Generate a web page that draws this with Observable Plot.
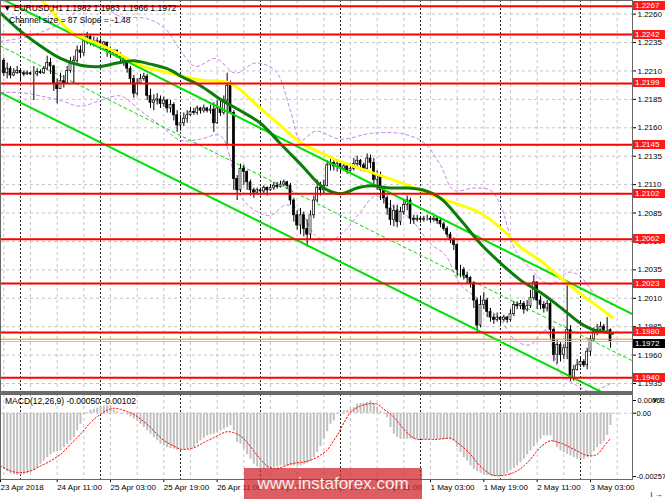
<!DOCTYPE html>
<html><head><meta charset="utf-8">
<script src="https://cdn.jsdelivr.net/npm/d3@7"></script>
<script src="https://cdn.jsdelivr.net/npm/@observablehq/plot@0.6"></script>
<style>
body{margin:0;background:#fff;}
#wrap{position:relative;width:665px;height:499px;overflow:hidden;font-family:"Liberation Sans",Arial,sans-serif;color:#000;}
#wrap svg{position:absolute;left:0;}
.t{position:absolute;font-size:8.5px;white-space:nowrap;line-height:9px;}
.box{position:absolute;left:633px;width:32px;height:9px;font-size:8px;line-height:9px;color:#fff;padding-left:2px;box-sizing:border-box;}
</style></head><body><div id="wrap"></div>
<script>
// ---------- data ----------
const firstIndex = -5;          // bar index of first candle (0 = 24 Apr 00:00)
const firstOpen = 1.2219;
const closes = [
1.2208,1.2212,1.2206,1.2208,1.2210,1.2208,1.2207,1.2208,1.2207,1.2207,
1.2209,1.2208,1.2212,1.2217,1.2214,1.2199,1.2194,1.2201,1.2199,1.2210,
1.2217,1.2219,1.2228,1.2226,1.2236,1.2240,1.2236,1.2235,1.2236,1.2233,
1.2235,1.2228,1.2226,1.2228,1.2224,1.2221,1.2217,1.2212,1.2203,1.2190,
1.2199,1.2203,1.2205,1.2188,1.2182,1.2184,1.2185,1.2181,1.2184,1.2177,
1.2180,1.2171,1.2162,1.2164,1.2168,1.2171,1.2174,1.2173,1.2177,1.2175,
1.2177,1.2175,1.2176,1.2164,1.2177,1.2173,1.2184,1.2197,1.2173,1.2115,
1.2105,1.2124,1.2121,1.2112,1.2105,1.2103,1.2105,1.2104,1.2107,1.2105,
1.2107,1.2109,1.2108,1.2110,1.2112,1.2109,1.2096,1.2083,1.2074,1.2083,
1.2071,1.2066,1.2083,1.2096,1.2107,1.2105,1.2109,1.2127,1.2129,1.2126,
1.2128,1.2124,1.2126,1.2122,1.2124,1.2128,1.2131,1.2127,1.2124,1.2133,
1.2129,1.2114,1.2118,1.2105,1.2098,1.2089,1.2079,1.2087,1.2077,1.2086,
1.2092,1.2096,1.2080,1.2079,1.2080,1.2079,1.2080,1.2080,1.2079,1.2080,
1.2078,1.2075,1.2071,1.2066,1.2061,1.2057,1.2035,1.2035,1.2030,1.2028,
1.2023,1.2008,1.1986,1.2004,1.2008,1.1998,1.1993,1.1991,1.1993,1.1991,
1.1993,1.1991,1.1996,1.2004,1.2003,1.2005,1.2000,1.2003,1.2010,1.2024,
1.2008,1.2004,1.2001,1.2005,1.1982,1.1960,1.1969,1.1960,1.1966,1.1982,
1.1940,1.1947,1.1951,1.1954,1.1951,1.1963,1.1974,1.1980,1.1982,1.1985,
1.1982,1.1982,1.1972];
const highs = [
1.2221,1.2217,1.2214,1.2212,1.2214,1.2212,1.2210,1.2210,1.2209,1.2214,
1.2212,1.2211,1.2214,1.2223,1.2221,1.2215,1.2203,1.2208,1.2206,1.2214,
1.2222,1.2223,1.2232,1.2232,1.2240,1.2244,1.2242,1.2240,1.2239,1.2238,
1.2236,1.2233,1.2231,1.2229,1.2228,1.2226,1.2223,1.2219,1.2214,1.2206,
1.2203,1.2207,1.2208,1.2207,1.2194,1.2189,1.2190,1.2188,1.2187,1.2185,
1.2184,1.2182,1.2175,1.2171,1.2173,1.2175,1.2178,1.2177,1.2179,1.2178,
1.2180,1.2178,1.2180,1.2182,1.2184,1.2184,1.2188,1.2208,1.2201,1.2175,
1.2118,1.2128,1.2127,1.2122,1.2114,1.2107,1.2107,1.2107,1.2109,1.2108,
1.2110,1.2112,1.2112,1.2113,1.2114,1.2113,1.2111,1.2098,1.2087,1.2089,
1.2086,1.2079,1.2087,1.2100,1.2114,1.2112,1.2114,1.2131,1.2133,1.2131,
1.2131,1.2129,1.2129,1.2128,1.2128,1.2133,1.2135,1.2132,1.2129,1.2137,
1.2136,1.2133,1.2122,1.2121,1.2108,1.2100,1.2096,1.2092,1.2092,1.2090,
1.2096,1.2100,1.2098,1.2083,1.2083,1.2082,1.2082,1.2083,1.2082,1.2082,
1.2081,1.2080,1.2077,1.2073,1.2068,1.2063,1.2058,1.2039,1.2037,1.2033,
1.2029,1.2024,1.2010,1.2012,1.2015,1.2010,1.2001,1.1996,1.1997,1.1994,
1.1995,1.1994,1.2000,1.2007,1.2007,1.2008,1.2007,1.2008,1.2017,1.2030,
1.2022,1.2012,1.2007,1.2008,1.2010,1.1984,1.1973,1.1971,1.1969,1.2024,
1.1986,1.1951,1.1956,1.1958,1.1956,1.1966,1.1977,1.1984,1.1987,1.1989,
1.1987,1.1993,1.1983];
const lows = [
1.2205,1.2203,1.2203,1.2205,1.2207,1.2201,1.2205,1.2206,1.2206,1.2184,
1.2205,1.2207,1.2207,1.2210,1.2207,1.2192,1.2181,1.2196,1.2195,1.2198,
1.2208,1.2199,1.2217,1.2221,1.2223,1.2233,1.2232,1.2231,1.2233,1.2229,
1.2229,1.2222,1.2221,1.2223,1.2221,1.2217,1.2214,1.2208,1.2199,1.2186,
1.2188,1.2198,1.2201,1.2184,1.2177,1.2175,1.2180,1.2177,1.2178,1.2173,
1.2173,1.2166,1.2156,1.2157,1.2161,1.2164,1.2170,1.2171,1.2171,1.2172,
1.2173,1.2173,1.2172,1.2156,1.2163,1.2170,1.2171,1.2144,1.2172,1.2105,
1.2096,1.2103,1.2109,1.2105,1.2100,1.2098,1.2101,1.2100,1.2102,1.2100,
1.2104,1.2105,1.2106,1.2107,1.2108,1.2106,1.2092,1.2077,1.2070,1.2066,
1.2064,1.2055,1.2061,1.2080,1.2094,1.2100,1.2102,1.2108,1.2122,1.2122,
1.2121,1.2120,1.2122,1.2119,1.2121,1.2122,1.2126,1.2122,1.2121,1.2123,
1.2124,1.2108,1.2105,1.2096,1.2093,1.2083,1.2074,1.2073,1.2072,1.2074,
1.2083,1.2087,1.2075,1.2075,1.2077,1.2076,1.2077,1.2078,1.2076,1.2077,
1.2075,1.2072,1.2069,1.2063,1.2058,1.2052,1.2029,1.2028,1.2026,1.2023,
1.2019,1.2001,1.1980,1.1984,1.2000,1.1993,1.1989,1.1987,1.1989,1.1987,
1.1989,1.1988,1.1989,1.1994,1.2000,1.2000,1.1996,1.1998,1.2001,1.2008,
1.2000,1.2000,1.1997,1.1998,1.1974,1.1954,1.1952,1.1954,1.1956,1.1956,
1.1937,1.1937,1.1946,1.1949,1.1949,1.1947,1.1959,1.1971,1.1977,1.1979,
1.1979,1.1980,1.1966];
const macdHist = [
-0.00228,-0.00237,-0.00246,-0.00250,-0.00252,-0.00252,-0.00250,-0.00246,-0.00241,-0.00234,
-0.00221,-0.00207,-0.00194,-0.00180,-0.00169,-0.00160,-0.00156,-0.00153,-0.00140,-0.00126,
-0.00112,-0.00099,-0.00072,-0.00045,-0.00004,0.00003,0.00012,0.00016,0.00020,0.00026,
0.00028,0.00030,0.00030,0.00012,0.00005,-0.00001,-0.00003,-0.00007,-0.00015,-0.00024,
-0.00034,-0.00045,-0.00058,-0.00072,-0.00085,-0.00099,-0.00112,-0.00126,-0.00133,-0.00140,
-0.00144,-0.00146,-0.00150,-0.00153,-0.00150,-0.00146,-0.00142,-0.00140,-0.00126,-0.00112,
-0.00102,-0.00092,-0.00088,-0.00085,-0.00079,-0.00072,-0.00065,-0.00058,-0.00051,-0.00072,
-0.00119,-0.00126,-0.00146,-0.00167,-0.00187,-0.00207,-0.00218,-0.00228,-0.00228,-0.00228,
-0.00224,-0.00221,-0.00218,-0.00214,-0.00214,-0.00214,-0.00214,-0.00214,-0.00214,-0.00214,
-0.00210,-0.00205,-0.00195,-0.00180,-0.00160,-0.00135,-0.00105,-0.00075,-0.00045,-0.00031,
-0.00004,0.00003,0.00009,0.00012,0.00016,0.00023,0.00037,0.00039,0.00039,0.00043,
0.00050,0.00037,0.00023,0.00007,-0.00004,-0.00018,-0.00058,-0.00085,-0.00099,-0.00106,
-0.00106,-0.00106,-0.00106,-0.00106,-0.00106,-0.00106,-0.00106,-0.00106,-0.00106,-0.00106,
-0.00106,-0.00106,-0.00106,-0.00106,-0.00108,-0.00112,-0.00140,-0.00160,-0.00180,-0.00194,
-0.00214,-0.00228,-0.00238,-0.00244,-0.00250,-0.00252,-0.00255,-0.00257,-0.00257,-0.00255,
-0.00252,-0.00245,-0.00234,-0.00224,-0.00214,-0.00201,-0.00187,-0.00169,-0.00153,-0.00137,
-0.00119,-0.00106,-0.00092,-0.00092,-0.00092,-0.00119,-0.00140,-0.00153,-0.00160,-0.00167,
-0.00173,-0.00180,-0.00187,-0.00187,-0.00187,-0.00180,-0.00173,-0.00156,-0.00140,-0.00128,
-0.00115,-0.00090,-0.00050];
const macdSignal = [[-6,-0.00214],[-3,-0.00234],[0,-0.00241],[3,-0.00234],[6,-0.00214],[9,-0.00194],[12,-0.00167],[15,-0.00126],[18,-0.00085],[21,-0.00038],[24,-0.00004],[26,0.00012],[28,0.00020],[30,0.00016],[32,0.00007],[34,-0.00004],[36,-0.00024],[38,-0.00045],[40,-0.00072],[42,-0.00099],[44,-0.00119],[46,-0.00133],[48,-0.00146],[50,-0.00146],[52,-0.00140],[54,-0.00126],[56,-0.00112],[58,-0.00099],[60,-0.00085],[62,-0.00075],[64,-0.00079],[66,-0.00092],[68,-0.00119],[70,-0.00153],[72,-0.00187],[74,-0.00214],[76,-0.00224],[78,-0.00221],[80,-0.00210],[82,-0.00203],[84,-0.00200],[86,-0.00195],[88,-0.00185],[90,-0.00170],[92,-0.00150],[93,-0.00130],[95,-0.00090],[97,-0.00040],[99,0.00003],[101,0.00023],[103,0.00034],[105,0.00039],[107,0.00037],[109,0.00016],[111,-0.00004],[113,-0.00031],[115,-0.00065],[117,-0.00092],[119,-0.00106],[121,-0.00106],[123,-0.00106],[125,-0.00106],[127,-0.00103],[129,-0.00102],[131,-0.00119],[133,-0.00140],[135,-0.00167],[137,-0.00201],[139,-0.00228],[141,-0.00248],[143,-0.00254],[145,-0.00252],[147,-0.00246],[149,-0.00234],[151,-0.00214],[153,-0.00187],[155,-0.00153],[157,-0.00126],[159,-0.00112],[161,-0.00117],[163,-0.00126],[165,-0.00140],[167,-0.00153],[169,-0.00167],[171,-0.00173],[173,-0.00167],[175,-0.00135],[177,-0.00102]];
const maSlow = [[5,1.2276],[9,1.2264],[13,1.2250],[16,1.2243],[19,1.2239],[27,1.2229],[36,1.2215],[45,1.2208],[54,1.2202],[63,1.2199],[72,1.2177],[78,1.2162],[84,1.2147],[93,1.2134],[102,1.2124],[111,1.2115],[120,1.2105],[126,1.2098],[132,1.2092],[138,1.2085],[144,1.2072],[150,1.2055],[156,1.2043],[162,1.2028],[168,1.2014],[174,1.2001],[177.6,1.1993]];
const maFast = [[-6,1.2261],[0,1.2245],[6,1.2232],[12,1.2221],[18,1.2215],[24,1.2214],[29,1.2217],[34,1.2219],[39,1.2216],[44,1.2212],[49,1.2204],[54,1.2197],[60,1.2185],[66,1.2175],[72,1.2164],[78,1.2146],[84,1.2128],[91,1.2107],[96,1.2102],[101,1.2107],[105,1.2109],[111,1.2107],[116,1.2107],[121,1.2105],[126,1.2098],[132,1.2079],[138,1.2058],[144,1.2041],[150,1.2026],[156,1.2015],[162,1.2002],[168,1.1988],[172,1.1982],[176,1.1980],[177.6,1.1979]];
const bandUpper = [[-6,1.2236],[3,1.2241],[12,1.2252],[18,1.2264],[24,1.2267],[30,1.2258],[38,1.2256],[43.5,1.2247],[48,1.2228],[52.5,1.2214],[58.5,1.2221],[64.5,1.2208],[70.5,1.2217],[76.5,1.2210],[81,1.2175],[84,1.2149],[88.5,1.2157],[96,1.2150],[105,1.2155],[114,1.2155],[121,1.2147],[126,1.2127],[130,1.2105],[136,1.2107],[141,1.2105],[144,1.2092],[148.5,1.2052],[153,1.2036],[159,1.2022],[164.5,1.2033],[168,1.2029],[172.5,1.2013],[177.6,1.2004]];
const bandLower = [[-6,1.2191],[0,1.2191],[6,1.2188],[12,1.2184],[18,1.2179],[24,1.2184],[30,1.2188],[36,1.2175],[42,1.2162],[48,1.2149],[54,1.2150],[60,1.2153],[66,1.2100],[70.5,1.2087],[75,1.2083],[79.5,1.2092],[84,1.2087],[88.5,1.2065],[93,1.2061],[97.5,1.2070],[102,1.2086],[106.5,1.2100],[111,1.2092],[117,1.2080],[123,1.2058],[127.5,1.2048],[132,1.2022],[138,1.2008],[144,1.1991],[148.5,1.1973],[153,1.1969],[157.5,1.1982],[162,1.1944],[166.5,1.1934],[171,1.1928],[175,1.1932],[177.6,1.1936]];
const channelUpper = [[-6,1.2274],[183.6,1.1996]];
const channelMiddle = [[-6,1.2232],[183.6,1.1955]];
const channelLower = [[-6,1.2191],[183.6,1.1914]];
const levels = [1.2267,1.2242,1.2199,1.2145,1.2102,1.2062,1.2023,1.1980,1.1940];
const orangeLevel = 1.1974;
const bidPrice = 1.1972;
const priceTicks = [1.2260,1.2235,1.2210,1.2185,1.2160,1.2135,1.2110,1.2085,1.2060,1.2035,1.2010,1.1985,1.1960,1.1935];
const macdTicks = [0.00068, 0, -0.00257];
const macdTickLabels = ["0.00068","0.00","-0.00257"];
const xLabelIdx = [-6,11,27,43,59,75,91,107,123,139,155,171];
const xLabels = ["23 Apr 2018","24 Apr 11:00","25 Apr 03:00","25 Apr 19:00","26 Apr 11:00","27 Apr 03:00","27 Apr 19:00","30 Apr 11:00","1 May 03:00","1 May 19:00","2 May 11:00","3 May 03:00"];
const gridIdx = [-5,3,11,19,27,35,43,51,59,67,75,83,91,99,107,115,123,131,139,147,155,163,171,179];
const daySep = [0,24,48,72,96,120,144,168];
const headerText = "EURUSD,H1  1.1982 1.1983 1.1966 1.1972";
const channelText = "Channel size = 87 Slope = -1.48";
const macdText = "MACD(12,26,9) -0.00050 -0.00102";

// ---------- build ----------
const bars = closes.map((c, k) => {
  const o = k === 0 ? firstOpen : closes[k - 1];
  return {i: firstIndex + k, open: o, close: c, high: Math.max(highs[k], o, c), low: Math.min(lows[k], o, c)};
});
const hist = macdHist.map((v, k) => ({i: firstIndex + k, v}));
const X_DOMAIN = [-6, 183.6];
const FONT = "Liberation Sans, Arial, sans-serif";
const px = d => d[0], py = d => d[1];
const macdLabel = d => macdTickLabels[macdTicks.indexOf(d)];

const main = Plot.plot({
  width: 665, height: 392, marginLeft: 0, marginRight: 33, marginTop: 0, marginBottom: 0,
  x: {domain: X_DOMAIN, axis: null},
  y: {domain: [1.19271, 1.22720], axis: null},
  style: {fontFamily: FONT, fontSize: "8px", background: "transparent", overflow: "visible", color: "#000"},
  marks: [
    Plot.ruleY(priceTicks, {stroke: "#c4c4c4", strokeDasharray: "3,3"}),
    Plot.ruleX(gridIdx, {stroke: "#c4c4c4", strokeDasharray: "3,3"}),
    Plot.ruleX(daySep, {stroke: "#222", strokeDasharray: "2,2"}),
    Plot.line(bandUpper, {x: px, y: py, stroke: "#c47fe6", strokeDasharray: "3,3", strokeWidth: 1, curve: "catmull-rom", clip: true}),
    Plot.line(bandLower, {x: px, y: py, stroke: "#c47fe6", strokeDasharray: "3,3", strokeWidth: 1, curve: "catmull-rom", clip: true}),
    Plot.line(channelMiddle, {x: px, y: py, stroke: "#00e000", strokeDasharray: "3,3", strokeWidth: 1, clip: true}),
    Plot.ruleX(bars, {x: "i", y1: "low", y2: "high", stroke: "#000", strokeWidth: 1}),
    Plot.rect(bars, {x1: d => d.i - 0.3, x2: d => d.i + 0.3, y1: "open", y2: "close",
      fill: d => d.close > d.open ? "#fff" : "#000", stroke: "#000", strokeWidth: 0.7}),
    Plot.line(channelUpper, {x: px, y: py, stroke: "#00e000", strokeWidth: 2, clip: true}),
    Plot.line(channelLower, {x: px, y: py, stroke: "#00e000", strokeWidth: 2, clip: true}),
    Plot.line(maSlow, {x: px, y: py, stroke: "#ffff00", strokeWidth: 3, curve: "catmull-rom", clip: true}),
    Plot.line(maFast, {x: px, y: py, stroke: "#0a7d0a", strokeWidth: 3, curve: "catmull-rom", clip: true}),
    Plot.ruleY(levels, {stroke: "#ff0000", strokeWidth: 2}),
    Plot.ruleY([orangeLevel], {stroke: "#ff8c00", strokeWidth: 1}),
    Plot.ruleY([bidPrice], {stroke: "#c0c0c0", strokeWidth: 1}),
    Plot.axisY({anchor: "right", ticks: priceTicks, tickFormat: d3.format(".4f"), tickSize: 3, tickPadding: 2, fontSize: 8}),
    Plot.frame({stroke: "#666"})
  ]
});

const macd = Plot.plot({
  width: 665, height: 106, marginLeft: 0, marginRight: 33, marginTop: 1, marginBottom: 20,
  x: {domain: X_DOMAIN, axis: null},
  y: {domain: [-0.00269, 0.00076], axis: null},
  style: {fontFamily: FONT, fontSize: "8px", background: "transparent", overflow: "visible", color: "#000"},
  marks: [
    Plot.ruleX(gridIdx, {stroke: "#c4c4c4", strokeDasharray: "3,3"}),
    Plot.ruleX(daySep, {stroke: "#222", strokeDasharray: "2,2"}),
    Plot.ruleY([0], {stroke: "#c4c4c4", strokeDasharray: "3,3"}),
    Plot.ruleX(hist, {x: "i", y1: 0, y2: "v", stroke: "#c0c0c0", strokeWidth: 2}),
    Plot.line(macdSignal, {x: px, y: py, stroke: "#ff0000", strokeDasharray: "1.5,2", strokeWidth: 1, curve: "catmull-rom"}),
    Plot.axisY({anchor: "right", ticks: macdTicks.slice(0, 1), tickFormat: macdLabel, tickSize: 3, tickPadding: 2, fontSize: 7.5, dy: 4}),
    Plot.axisY({anchor: "right", ticks: macdTicks.slice(1), tickFormat: macdLabel, tickSize: 3, tickPadding: 1, fontSize: 7.5}),
    Plot.axisX({anchor: "bottom", ticks: xLabelIdx, tickFormat: d => xLabels[xLabelIdx.indexOf(d)], tickSize: 3, tickPadding: 2, textAnchor: "start", fontSize: 8}),
    Plot.frame({stroke: "#666"})
  ]
});

const wrap = document.getElementById("wrap");
main.style.top = "0px";
macd.style.top = "393px";
wrap.appendChild(main);
wrap.appendChild(macd);

function addDiv(cls, text, css) {
  const d = document.createElement("div");
  d.className = cls; d.textContent = text;
  Object.assign(d.style, css);
  wrap.appendChild(d);
  return d;
}
// panel separator
addDiv("", "", {position: "absolute", left: "0px", top: "391px", width: "633px", height: "3px", background: "#6b6b6b"});
// level boxes
const ys = main.scale("y");
levels.forEach(v => addDiv("box", d3.format(".4f")(v), {top: (ys.apply(v) - 4.5) + "px", background: "#ff1a1a"}));
addDiv("box", d3.format(".4f")(bidPrice), {top: (ys.apply(bidPrice) - 4.5 + 3) + "px", background: "#000"});
// header texts
addDiv("t", "\u25BC " + headerText, {left: "3px", top: "4px"});
addDiv("t", channelText, {left: "9px", top: "16px"});
addDiv("t", macdText, {left: "5px", top: "397px"});
// watermark
addDiv("", "www.instaforex.com", {position: "absolute", left: "244px", top: "468px", width: "178px", height: "31px",
  background: "rgba(210,40,45,0.75)", color: "#f6ecec", fontSize: "17px", lineHeight: "31px", textAlign: "center"});
</script></body></html>
